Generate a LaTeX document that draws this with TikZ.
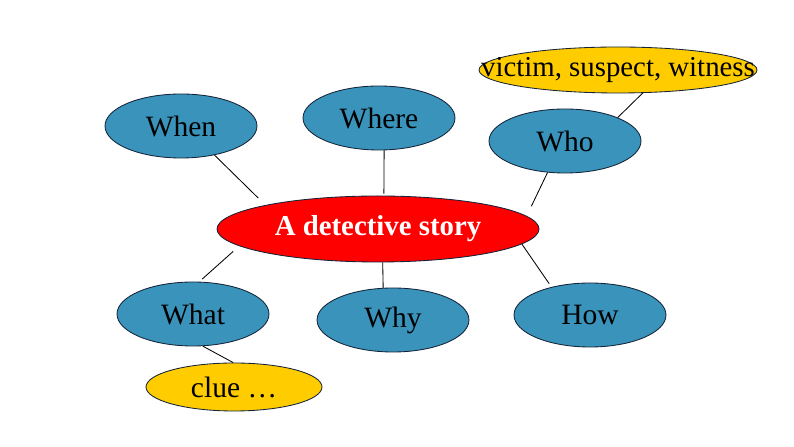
\documentclass[tikz,border=0pt]{standalone}
\usepackage{fontspec}
\setmainfont{Liberation Serif}
\usepackage{tikz}
\usetikzlibrary{shapes.geometric}
\definecolor{bubbleBlue}{RGB}{57, 147, 187}
\definecolor{clueYellow}{RGB}{255, 204, 0}
\definecolor{storyRed}{RGB}{255, 0, 0}
\definecolor{edgeNavy}{RGB}{20, 35, 55}

\begin{document}
\begin{tikzpicture}[
    bubble/.style={ellipse, draw=edgeNavy, line width=0.6pt, inner sep=0pt,
      fill=bubbleBlue, minimum width=3.8cm, minimum height=1.6cm,
      font=\fontsize{21}{25}\selectfont},
    clue/.style={bubble, fill=clueYellow, minimum height=1.2cm},
    link/.style={line width=0.6pt, black}]
      \useasboundingbox (0,0) rectangle (19.85,11.175);

      % Centre
      \node[bubble, fill=storyRed, minimum width=8.05cm, minimum height=1.65cm,
        text=white, font=\fontsize{20.5}{25}\selectfont\bfseries]
        (story) at (9.45,5.45) {A detective story};

      % Question words
      \node[bubble] (when)  at (4.525,8.025) {When};
      \node[bubble] (where) at (9.475,8.225) {Where};
      \node[bubble] (who)   at (14.125,7.65) {Who};
      \node[bubble] (what)  at (4.825,3.325) {What};
      \node[bubble] (why)   at (9.825,3.175) {Why};
      \node[bubble] (how)   at (14.75,3.3) {How};

      % Details
      \node[clue, minimum width=6.95cm, minimum height=1.15cm,
        font=\fontsize{20.5}{25}\selectfont]
        (people) at (15.45,9.425) {\makebox[0pt]{victim, suspect, witness}};
      \node[clue, minimum width=4.4cm] (clues) at (5.85,1.5) {clue …};

      % Links
      \draw[link, shorten >=0.25cm] (when.-41) -- (story.168);
      \draw[link, shorten >=0.05cm] (where.-81) -- (story.80);
      \draw[link, shorten >=0.27cm] (who.-119) -- (story.5);
      \draw[link] (people.-43) -- (who.24);
      \draw[link, shorten <=0.1cm, shorten >=0.2cm] (what.79) -- (story.187);
      \draw[link] (story.-82) -- (why.107);
      \draw[link, shorten >=0.1cm] (story.-6) -- (how.144);
      \draw[link] (what.-73) -- (clues.92);
    \end{tikzpicture}
\end{document}
